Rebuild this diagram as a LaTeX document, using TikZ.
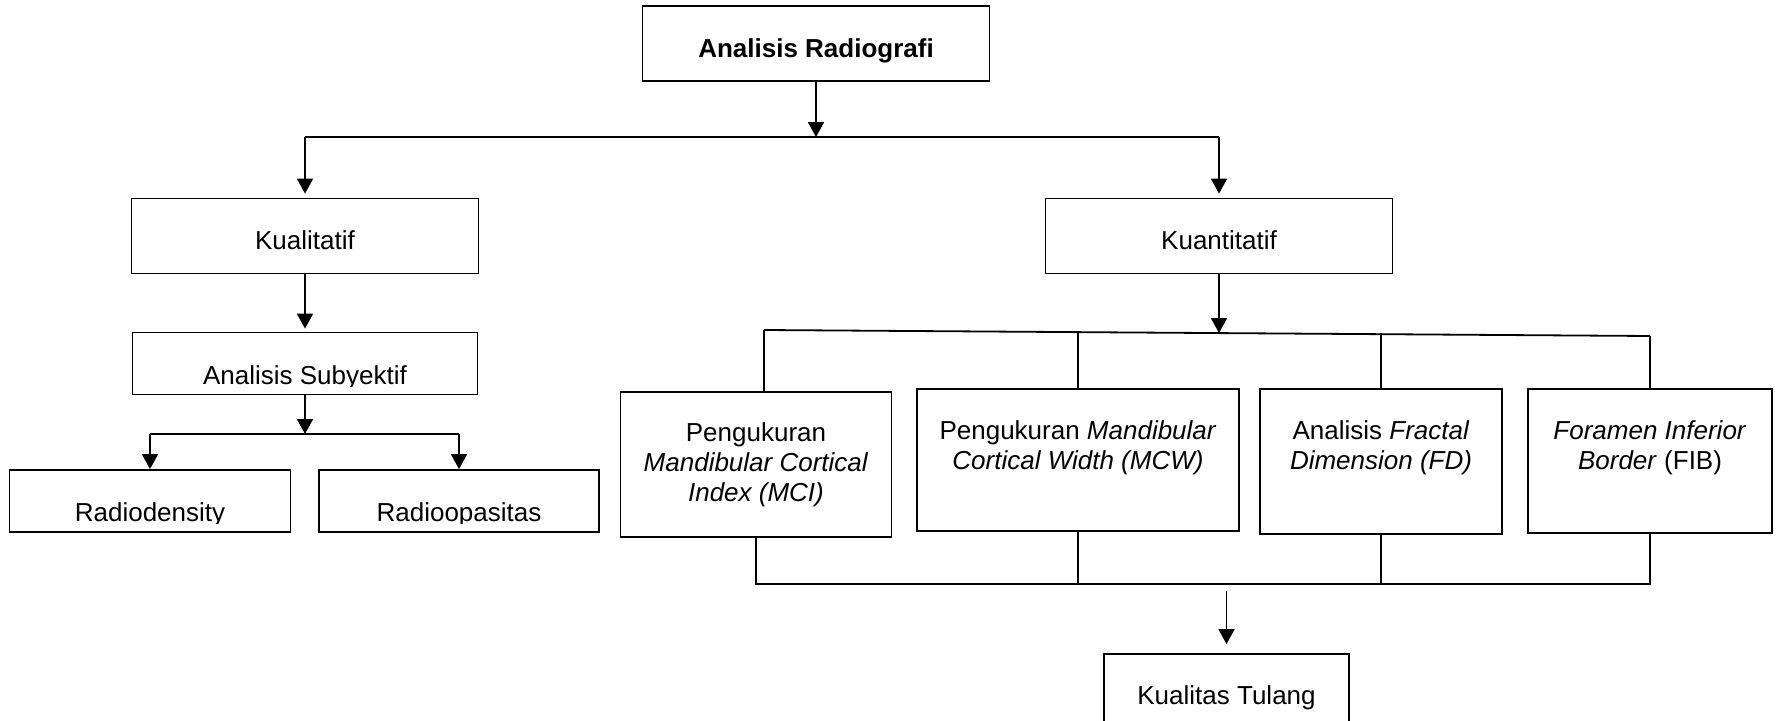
\documentclass[tikz,border=0pt]{standalone}
\usepackage{fontspec}
\setmainfont{Liberation Sans}
\usetikzlibrary{arrows.meta}
\tikzset{
  box/.style={draw,line width=1.8pt,inner sep=0pt,align=center,font=\fontsize{26}{30}\selectfont},
  txt/.style={inner sep=0pt,align=center,font=\fontsize{26}{30}\selectfont},
  oneline/.style={text height=27pt,text depth=0pt},
}
\begin{document}
\begin{tikzpicture}[x=1pt,y=-1pt,>={Triangle[length=15pt,width=16pt]},line width=1.8pt]
    \useasboundingbox (0,0) rectangle (1779,720);
    % boxes
    \node[box,oneline,minimum width=347,minimum height=75] (top) at (816,43.5) {\textbf{Analisis Radiografi}};
    \node[box,oneline,minimum width=347,minimum height=75] (kual) at (305,236) {Kualitatif};
    \node[box,oneline,minimum width=347,minimum height=75] (kuan) at (1219,236) {Kuantitatif};
    \node[box,minimum width=345,minimum height=62] (subj) at (305,363.5) {};
    \node[box,minimum width=281,minimum height=62] (rdens) at (150,501) {};
    \node[box,minimum width=280,minimum height=62] (ropas) at (459,501) {};
    \node[box,minimum width=271,minimum height=145] (mci) at (756,464.5) {Pengukuran\\\textit{Mandibular Cortical}\\\textit{Index (MCI)}};
    \node[box,minimum width=322,minimum height=142,label={[txt,anchor=north,yshift=-32pt]north:{Pengukuran \textit{Mandibular}\\\textit{Cortical Width (MCW)}}}] (mcw) at (1078,460) {};
    \node[box,minimum width=242,minimum height=145,label={[txt,anchor=north,yshift=-32pt]north:{Analisis \textit{Fractal}\\\textit{Dimension (FD)}}}] (fd) at (1381,461.5) {};
    \node[box,minimum width=244,minimum height=144,label={[txt,anchor=north,yshift=-32pt]north:{\textit{Foramen Inferior}\\\textit{Border} (FIB)}}] (fib) at (1650,461) {};
    \node[box,minimum width=245,minimum height=68,label={[txt,anchor=north,yshift=-32pt]north:{Kualitas Tulang}}] (kt) at (1226.5,688) {};
    % texts cut at the bottom
    \foreach \n/\t in {subj/Analisis Subyektif,rdens/Radiodensity,ropas/Radioopasitas}{
      \begin{scope}
        \clip ([yshift=9pt]\n.south west) rectangle (\n.north east);
        \node[txt,anchor=base] (\n-t) at ([yshift=11pt]\n.south) {\t};
      \end{scope}
    }
    % connectors
    \coordinate (b1) at (0,137);
    \coordinate (b2) at (0,434);
    \coordinate (b3) at (0,333);
    \coordinate (b3l) at (764,330);
    \coordinate (b3r) at (1650,336);
    \coordinate (b4) at (0,584);
    \draw[->] (top) -- (top |- b1);
    \draw (kual |- b1) -- (kuan |- b1);
    \draw[->,shorten >=4pt] (kual |- b1) -- (kual);
    \draw[->,shorten >=4pt] (kuan |- b1) -- (kuan);
    \draw[->,shorten >=3pt] (kual) -- (subj);
    \draw[->] (subj) -- (subj |- b2);
    \draw (rdens |- b2) -- (ropas |- b2);
    \draw[->] (rdens |- b2) -- (rdens);
    \draw[->] (ropas |- b2) -- (ropas);
    \draw[->] (kuan) -- (kuan |- b3);
    \draw (b3l) -- (b3r);
    \draw (b3l) -- (b3l |- mci.north);
    \draw (mcw |- b3) -- (mcw);
    \draw (fd |- b3) -- (fd);
    \draw (b3r) -- (b3r |- fib.north);
    \draw (mci) -- (mci |- b4) -- (fib |- b4) -- (fib);
    \draw (mcw) -- (mcw |- b4);
    \draw (fd) -- (fd |- b4);
    \draw[->,shorten <=7pt,shorten >=9pt] (kt |- b4) -- (kt);
\end{tikzpicture}
\end{document}
